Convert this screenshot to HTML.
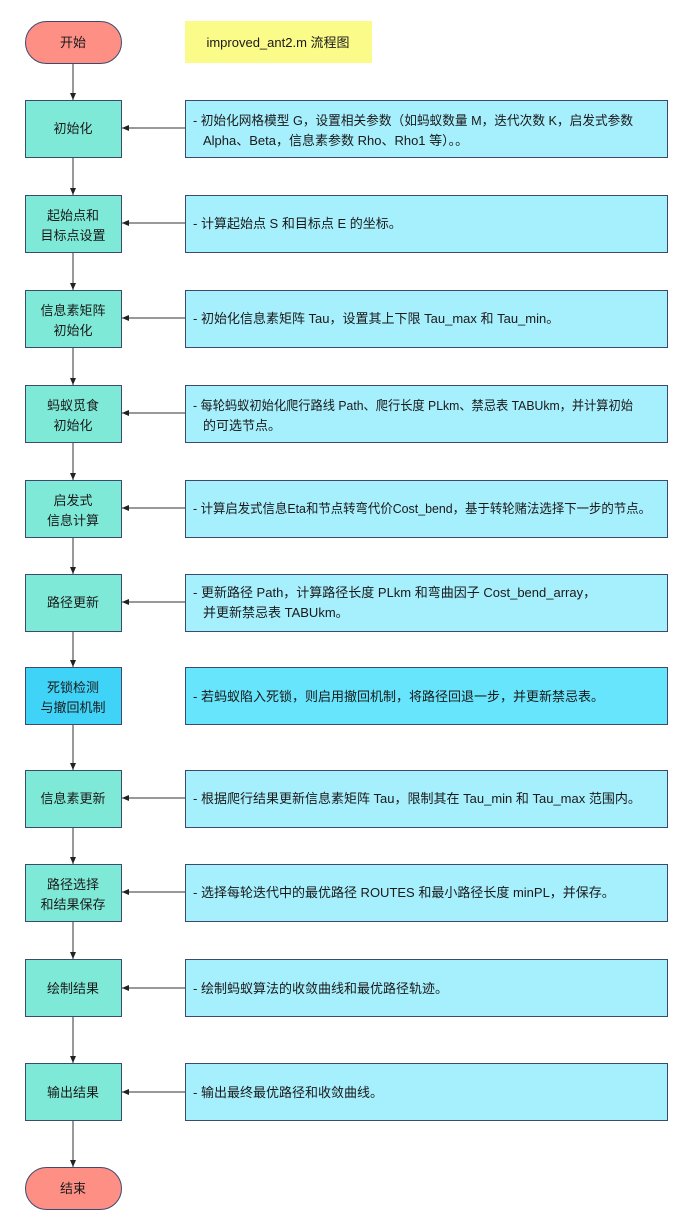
<!DOCTYPE html>
<html><head><meta charset="utf-8"><style>
body{margin:0;background:#fff;}
svg text{font-family:"Liberation Sans","Noto Sans CJK SC",sans-serif;font-size:13px;fill:#1a1a1a;}
</style></head><body>
<svg width="700" height="1222" viewBox="0 0 700 1222" xmlns="http://www.w3.org/2000/svg">
<defs><marker id="a" markerWidth="8" markerHeight="8" refX="7" refY="4" orient="auto" markerUnits="userSpaceOnUse"><path d="M0,1 L7,4 L0,7 z" fill="#222"/></marker></defs>
<g stroke="#333" stroke-width="1" fill="none">
<line x1="73" y1="63" x2="73" y2="100" marker-end="url(#a)"/>
<line x1="73" y1="157" x2="73" y2="195" marker-end="url(#a)"/>
<line x1="73" y1="252" x2="73" y2="290" marker-end="url(#a)"/>
<line x1="73" y1="347" x2="73" y2="385" marker-end="url(#a)"/>
<line x1="73" y1="442" x2="73" y2="480" marker-end="url(#a)"/>
<line x1="73" y1="537" x2="73" y2="574" marker-end="url(#a)"/>
<line x1="73" y1="631" x2="73" y2="667" marker-end="url(#a)"/>
<line x1="73" y1="725" x2="73" y2="770" marker-end="url(#a)"/>
<line x1="73" y1="827" x2="73" y2="864" marker-end="url(#a)"/>
<line x1="73" y1="921" x2="73" y2="959" marker-end="url(#a)"/>
<line x1="73" y1="1017" x2="73" y2="1063" marker-end="url(#a)"/>
<line x1="73" y1="1121" x2="73" y2="1167" marker-end="url(#a)"/>
<line x1="185" y1="128" x2="122" y2="128" marker-end="url(#a)"/>
<line x1="185" y1="223" x2="122" y2="223" marker-end="url(#a)"/>
<line x1="185" y1="318" x2="122" y2="318" marker-end="url(#a)"/>
<line x1="185" y1="413" x2="122" y2="413" marker-end="url(#a)"/>
<line x1="185" y1="508" x2="122" y2="508" marker-end="url(#a)"/>
<line x1="185" y1="602" x2="122" y2="602" marker-end="url(#a)"/>
<line x1="185" y1="798" x2="122" y2="798" marker-end="url(#a)"/>
<line x1="185" y1="892" x2="122" y2="892" marker-end="url(#a)"/>
<line x1="185" y1="988" x2="122" y2="988" marker-end="url(#a)"/>
<line x1="185" y1="1092" x2="122" y2="1092" marker-end="url(#a)"/>
</g>
<g stroke="#3d4a6e" stroke-width="1">
<rect x="25.5" y="21.5" width="96" height="42" rx="21" fill="#fe8f85"/>
<rect x="25.5" y="1167.5" width="96" height="42" rx="21" fill="#fe8f85"/>
<rect x="185" y="21" width="187" height="42" fill="#fbfb8a" stroke="none"/>
<g fill="#7fe9d7">
<rect x="25.5" y="100.5" width="96" height="57"/>
<rect x="25.5" y="195.5" width="96" height="57"/>
<rect x="25.5" y="290.5" width="96" height="57"/>
<rect x="25.5" y="385.5" width="96" height="57"/>
<rect x="25.5" y="480.5" width="96" height="57"/>
<rect x="25.5" y="574.5" width="96" height="57"/>
<rect x="25.5" y="770.5" width="96" height="57"/>
<rect x="25.5" y="864.5" width="96" height="57"/>
<rect x="25.5" y="959.5" width="96" height="57"/>
<rect x="25.5" y="1063.5" width="96" height="57"/>
</g>
<rect x="25.5" y="667.5" width="96" height="57" fill="#40d3f8"/>
<g fill="#a6effc">
<rect x="185.5" y="100.5" width="482" height="57"/>
<rect x="185.5" y="195.5" width="482" height="57"/>
<rect x="185.5" y="290.5" width="482" height="57"/>
<rect x="185.5" y="385.5" width="482" height="57"/>
<rect x="185.5" y="480.5" width="482" height="57"/>
<rect x="185.5" y="574.5" width="482" height="57"/>
<rect x="185.5" y="770.5" width="482" height="57"/>
<rect x="185.5" y="864.5" width="482" height="57"/>
<rect x="185.5" y="959.5" width="482" height="57"/>
<rect x="185.5" y="1063.5" width="482" height="57"/>
</g>
<rect x="185.5" y="667.5" width="482" height="57" fill="#66e5fc"/>
</g>
<g text-anchor="middle">
<text x="73" y="47">开始</text>
<text x="73" y="1193">结束</text>
<text x="278" y="47">improved_ant2.m 流程图</text>
<text x="73" y="133">初始化</text>
<text x="73" y="220">起始点和</text><text x="73" y="240">目标点设置</text>
<text x="73" y="315">信息素矩阵</text><text x="73" y="335">初始化</text>
<text x="73" y="410">蚂蚁觅食</text><text x="73" y="430">初始化</text>
<text x="73" y="505">启发式</text><text x="73" y="525">信息计算</text>
<text x="73" y="607">路径更新</text>
<text x="73" y="692">死锁检测</text><text x="73" y="712">与撤回机制</text>
<text x="73" y="803">信息素更新</text>
<text x="73" y="889">路径选择</text><text x="73" y="909">和结果保存</text>
<text x="73" y="993">绘制结果</text>
<text x="73" y="1097">输出结果</text>
</g>
<g>
<text x="193" y="125" textLength="440" lengthAdjust="spacingAndGlyphs">- 初始化网格模型 G，设置相关参数（如蚂蚁数量 M，迭代次数 K，启发式参数</text>
<text x="203" y="145">Alpha、Beta，信息素参数 Rho、Rho1 等）。。</text>
<text x="193" y="228">- 计算起始点 S 和目标点 E 的坐标。</text>
<text x="193" y="323">- 初始化信息素矩阵 Tau，设置其上下限 Tau_max 和 Tau_min。</text>
<text x="193" y="410" textLength="440" lengthAdjust="spacingAndGlyphs">- 每轮蚂蚁初始化爬行路线 Path、爬行长度 PLkm、禁忌表 TABUkm，并计算初始</text>
<text x="203" y="430">的可选节点。</text>
<text x="193" y="513" textLength="458" lengthAdjust="spacingAndGlyphs">- 计算启发式信息Eta和节点转弯代价Cost_bend，基于转轮赌法选择下一步的节点。</text>
<text x="193" y="597">- 更新路径 Path，计算路径长度 PLkm 和弯曲因子 Cost_bend_array，</text>
<text x="203" y="617">并更新禁忌表 TABUkm。</text>
<text x="193" y="701">- 若蚂蚁陷入死锁，则启用撤回机制，将路径回退一步，并更新禁忌表。</text>
<text x="193" y="803">- 根据爬行结果更新信息素矩阵 Tau，限制其在 Tau_min 和 Tau_max 范围内。</text>
<text x="193" y="897">- 选择每轮迭代中的最优路径 ROUTES 和最小路径长度 minPL，并保存。</text>
<text x="193" y="993">- 绘制蚂蚁算法的收敛曲线和最优路径轨迹。</text>
<text x="193" y="1097">- 输出最终最优路径和收敛曲线。</text>
</g>
</svg>
</body></html>
